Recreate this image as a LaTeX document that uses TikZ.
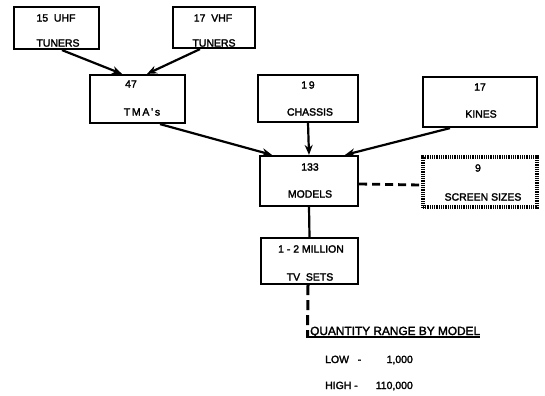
\documentclass[tikz,border=0pt]{standalone}
\usepackage{fontspec}
\setmainfont{Liberation Sans}
\newfontfamily\medsans{Liberation Sans}[FakeBold=2.2]
\usetikzlibrary{arrows.meta}
\begin{document}
\begin{tikzpicture}[x=1bp,y=-1bp,
  box/.style={draw,line width=2.2bp,rectangle,inner sep=0pt},
  dotbox/.style={draw,line width=3.4bp,dash pattern=on 0.9bp off 0.9bp,rectangle,inner sep=0pt},
  lbl/.style={inner sep=0pt,font=\fontsize{10.5}{12}\medsans},
  qlbl/.style={inner sep=0pt,font=\fontsize{11.9}{13}\medsans},
  feed/.style={line width=2.2bp,-{Stealth[length=10bp,width=8bp]}},
  link/.style={line width=2.2bp},
  dashlink/.style={line width=2.8bp,dash pattern=on 8bp off 5bp}]
\useasboundingbox (0,0) rectangle (545,395);

% blocks
\node[box,minimum width=85bp,minimum height=42bp] (uhf) at (56.5,28) {};
\node[box,minimum width=82bp,minimum height=41bp] (vhf) at (214,27.5) {};
\node[box,minimum width=95bp,minimum height=48bp] (tma) at (137.5,99) {};
\node[box,minimum width=100bp,minimum height=47bp] (chassis) at (308,98.5) {};
\node[box,minimum width=114bp,minimum height=50bp] (kines) at (480,102) {};
\node[box,minimum width=98bp,minimum height=50bp] (models) at (309,181) {};
\node[dotbox,minimum width=114bp,minimum height=50bp] (screens) at (480,182) {};
\node[box,minimum width=97bp,minimum height=46bp] (tv) at (309.5,261) {};

% block texts
\node[lbl] (uhfa) at (56,18) {15\ \ UHF};
\node[lbl] (uhfb) at (58,43) {TUNERS};
\node[lbl] (vhfa) at (213,18) {17\ \ VHF};
\node[lbl] (vhfb) at (214,43) {TUNERS};
\node[lbl] (tmaa) at (131,84) {47};
\node[lbl] (tmab) at (142,112) {T\,M\,A\,'\,s};
\node[lbl] (chasa) at (308,85) {1\,9};
\node[lbl] (chasb) at (310,112) {CHASSIS};
\node[lbl] (kina) at (480,87) {17};
\node[lbl] (kinb) at (481,114) {KINES};
\node[lbl] (moda) at (310,167) {133};
\node[lbl] (modb) at (310,194) {MODELS};
\node[lbl] (scra) at (478,168) {9};
\node[lbl] (scrb) at (483,197) {SCREEN SIZES};
\node[lbl] (tva) at (311,249) {1 - 2 MILLION};
\node[lbl] (tvb) at (310,277) {TV\ \ SETS};

% connectors
\draw[feed] ([xshift=5.5bp]uhf.south) -- ([xshift=-15.5bp]tma.north);
\draw[feed] ([xshift=-14bp]vhf.south) -- ([xshift=9.5bp]tma.north);
\draw[feed] ([xshift=22.5bp]tma.south) -- ([xshift=-37bp]models.north);
\draw[feed] (chassis.south) -- (models.north);
\draw[feed] ([xshift=-30bp]kines.south) -- ([xshift=36bp]models.north);
\draw[link] (models.south) -- (tv.north);
\draw[dashlink] ([yshift=-3bp]models.east) -- ([yshift=-3bp]screens.west);

% quantity note
\coordinate (q) at (307.5,337);
\coordinate (qend) at (480,337);
\draw[dashlink,line width=3bp,dash pattern=on 10bp off 5bp] ([xshift=-1.5bp]tv.south) -- (q);
\draw[line width=1.8bp] ([xshift=-1.5bp]q) -- (qend);
\node[qlbl,anchor=base west] (qt) at (310,335) {QUANTITY RANGE BY MODEL};
\node[lbl,anchor=base west] (lowa) at (325,363) {LOW\ \ \ -};
\node[lbl,anchor=base east] (lowb) at (413,363) {1,000};
\node[lbl,anchor=base west] (higha) at (325,389) {HIGH\ -};
\node[lbl,anchor=base east] (highb) at (413,389) {110,000};
\end{tikzpicture}
\end{document}
